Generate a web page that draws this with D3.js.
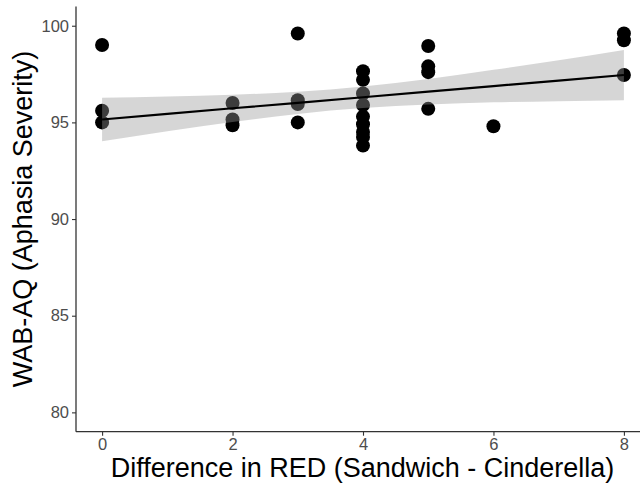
<!DOCTYPE html>
<html><head><meta charset="utf-8">
<script src="https://cdn.jsdelivr.net/npm/d3@7"></script>
<style>body{margin:0;background:#fff}</style>
</head><body>
<svg id="chart" width="640" height="485"></svg>
<script>
// data
const redDiff = [0,0,0, 2,2,2, 3,3,3,3, 4,4,4,4,4,4,4,4,4, 5,5,5,5, 6, 8,8,8];
const wabAQ   = [99.0,95.6,95.0, 96.0,95.15,94.85, 99.6,96.15,95.95,95.0,
                 97.65,97.2,96.5,95.9,95.3,94.9,94.5,94.25,93.8,
                 98.95,97.9,97.6,95.7, 94.8, 99.6,99.25,97.45];
const fitX    = [0,1,2,3,4,5,6,7,8];
const fitY    = [95.15,95.44,95.73,96.01,96.30,96.59,96.88,97.16,97.45];
const fitLo   = [94.03,94.54,95.02,95.44,95.74,95.93,96.04,96.10,96.15];
const fitHi   = [96.28,96.34,96.43,96.59,96.86,97.25,97.72,98.22,98.75];
const xTicks  = [0,2,4,6,8];
const yTicks  = [80,85,90,95,100];
const xTitle  = "Difference in RED (Sandwich - Cinderella)";
const yTitle  = "WAB-AQ (Aphasia Severity)";

const svg = d3.select("#chart");
const pLeft = 76, pRight = 650, pTop = 6.4, pBottom = 431.7;
const x = d3.scaleLinear().domain([-0.4, 8.4]).range([pLeft, pRight]);
const y = d3.scaleLinear().domain([79, 101]).range([pBottom, pTop]);
const font = "'Liberation Sans', Arial, Helvetica, sans-serif";

// points
svg.append("g").selectAll("circle").data(redDiff).join("circle")
  .attr("cx", (d) => x(d)).attr("cy", (d, i) => y(wabAQ[i]))
  .attr("r", 7).attr("fill", "#000");

// confidence band
const fit = fitX.map((d, i) => ({x: d, y: fitY[i], lo: fitLo[i], hi: fitHi[i]}));
svg.append("path").datum(fit)
  .attr("d", d3.area().x(d => x(d.x)).y0(d => y(d.lo)).y1(d => y(d.hi)).curve(d3.curveMonotoneX))
  .attr("fill", "#999999").attr("fill-opacity", 0.4);
svg.append("path").datum(fit)
  .attr("d", d3.line().x(d => x(d.x)).y(d => y(d.y)))
  .attr("fill", "none").attr("stroke", "#000").attr("stroke-width", 2.2);

// axes
const xAxis = svg.append("g").attr("transform", `translate(0,${pBottom})`)
  .call(d3.axisBottom(x).tickValues(xTicks).tickSize(4).tickPadding(3).tickSizeOuter(0));
const yAxis = svg.append("g").attr("transform", `translate(${pLeft},0)`)
  .call(d3.axisLeft(y).tickValues(yTicks).tickSize(4).tickPadding(3).tickSizeOuter(0));
[xAxis, yAxis].forEach(g => {
  g.select(".domain").attr("stroke", "#333").attr("stroke-width", 1.3);
  g.selectAll(".tick line").attr("stroke", "#333").attr("stroke-width", 1.1);
  g.selectAll(".tick text").attr("fill", "#4d4d4d").style("font-family", font).style("font-size", "16.5px");
});
xAxis.selectAll(".domain").attr("d", `M${pLeft},0H${pRight}`);
yAxis.selectAll(".domain").attr("d", `M0,${pBottom}V${pTop}`);

// titles
svg.append("text").attr("x", 362.5).attr("y", 477).attr("text-anchor", "middle")
  .style("font-family", font).style("font-size", "27px").attr("fill", "#000").text(xTitle);
svg.append("text").attr("transform", `translate(32,${(pTop + pBottom) / 2}) rotate(-90)`)
  .attr("text-anchor", "middle")
  .style("font-family", font).style("font-size", "27px").attr("fill", "#000").text(yTitle);
</script>
</body></html>
